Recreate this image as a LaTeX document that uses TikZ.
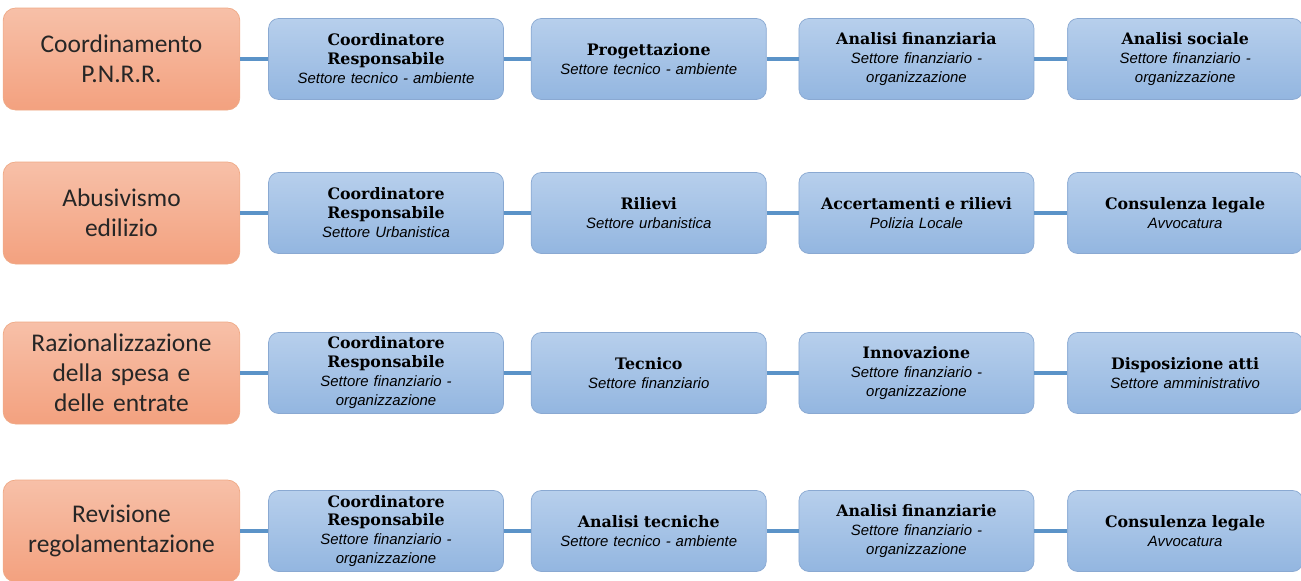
\documentclass[tikz,border=0pt]{standalone}
\usepackage{fontspec}
\setmainfont{Carlito}
\newfontfamily\titlefont{DejaVu Serif}
\newfontfamily\subfont{Liberation Sans}
\usepackage{tikz}
\usetikzlibrary{positioning}
\definecolor{orangetop}{HTML}{F7C0A8}
\definecolor{orangebot}{HTML}{F3A17F}
\definecolor{orangeline}{HTML}{EFA985}
\definecolor{bluetop}{HTML}{B7CFEC}
\definecolor{bluebot}{HTML}{93B6E0}
\definecolor{blueline}{HTML}{8AA9D2}
\definecolor{linkblue}{HTML}{5B93C8}
\tikzset{
  area/.style={draw=orangeline, top color=orangetop, bottom color=orangebot,
    rounded corners=0.25cm, minimum width=4.7cm, minimum height=2.04cm,
    text width=4.5cm, align=center, text=black!85,
    font=\fontsize{14.5}{17}\selectfont},
  role/.style={draw=blueline, top color=bluetop, bottom color=bluebot,
    rounded corners=0.2cm, minimum width=4.7cm, minimum height=1.62cm,
    text width=4.5cm, align=center, inner sep=0pt,
    font=\fontsize{8.5}{10.8}\selectfont},
  link/.style={draw=linkblue, line width=2.2pt}
}
\newcommand{\duty}[1]{{\titlefont\bfseries\fontsize{9}{10.8}\selectfont #1}}
\newcommand{\dept}[1]{{\subfont\itshape #1}}

\begin{document}
\begin{tikzpicture}
\useasboundingbox (0,0) rectangle (26.02,-11.6);
%%First place the areas
\node[area] (o1) at (2.43,-1.18) {Coordinamento\\P.N.R.R.};
\node[area] (o2) at (2.43,-4.26) {Abusivismo\\edilizio};
\node[area] (o3) at (2.43,-7.46) {Razionalizzazione\\della spesa e\\delle entrate};
\node[area] (o4) at (2.43,-10.62) {Revisione\\regolamentazione};
%%Row 1
\node[role] (r11) [right=0.56cm of o1] {\duty{Coordinatore}\\\duty{Responsabile}\\\dept{Settore tecnico - ambiente}};
\node[role] (r12) [right=0.54cm of r11] {\duty{Progettazione}\\\dept{Settore tecnico - ambiente}};
\node[role] (r13) [right=0.64cm of r12] {\duty{Analisi finanziaria}\\\dept{Settore finanziario -}\\\dept{organizzazione}};
\node[role] (r14) [right=0.66cm of r13] {\duty{Analisi sociale}\\\dept{Settore finanziario -}\\\dept{organizzazione}};
%%Row 2
\node[role] (r21) [right=0.56cm of o2] {\duty{Coordinatore}\\\duty{Responsabile}\\\dept{Settore Urbanistica}};
\node[role] (r22) [right=0.54cm of r21] {\duty{Rilievi}\\\dept{Settore urbanistica}};
\node[role] (r23) [right=0.64cm of r22] {\duty{Accertamenti e rilievi}\\\dept{Polizia Locale}};
\node[role] (r24) [right=0.66cm of r23] {\duty{Consulenza legale}\\\dept{Avvocatura}};
%%Row 3
\node[role] (r31) [right=0.56cm of o3] {\duty{Coordinatore}\\\duty{Responsabile}\\\dept{Settore finanziario -}\\\dept{organizzazione}};
\node[role] (r32) [right=0.54cm of r31] {\duty{Tecnico}\\\dept{Settore finanziario}};
\node[role] (r33) [right=0.64cm of r32] {\duty{Innovazione}\\\dept{Settore finanziario -}\\\dept{organizzazione}};
\node[role] (r34) [right=0.66cm of r33] {\duty{Disposizione atti}\\\dept{Settore amministrativo}};
%%Row 4
\node[role] (r41) [right=0.56cm of o4] {\duty{Coordinatore}\\\duty{Responsabile}\\\dept{Settore finanziario -}\\\dept{organizzazione}};
\node[role] (r42) [right=0.54cm of r41] {\duty{Analisi tecniche}\\\dept{Settore tecnico - ambiente}};
\node[role] (r43) [right=0.64cm of r42] {\duty{Analisi finanziarie}\\\dept{Settore finanziario -}\\\dept{organizzazione}};
\node[role] (r44) [right=0.66cm of r43] {\duty{Consulenza legale}\\\dept{Avvocatura}};
%%Draw the links
\draw[link]
(o1) -- (r11) (r11) -- (r12) (r12) -- (r13) (r13) -- (r14)
(o2) -- (r21) (r21) -- (r22) (r22) -- (r23) (r23) -- (r24)
(o3) -- (r31) (r31) -- (r32) (r32) -- (r33) (r33) -- (r34)
(o4) -- (r41) (r41) -- (r42) (r42) -- (r43) (r43) -- (r44);
\end{tikzpicture}
\end{document}
